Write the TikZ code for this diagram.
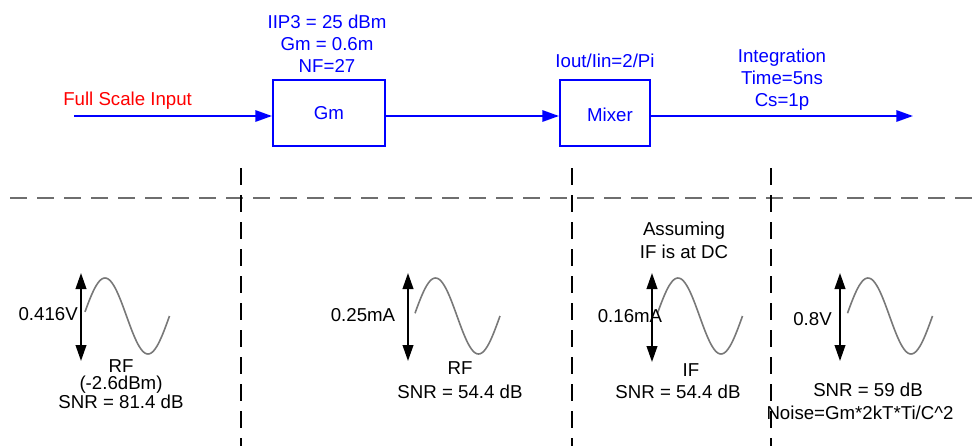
\documentclass[tikz,border=0pt]{standalone}
\usepackage{fontspec}
\setmainfont{Liberation Sans}
\usetikzlibrary{arrows.meta}
\definecolor{pureblue}{RGB}{0,0,255}
\definecolor{purered}{RGB}{255,0,0}
\definecolor{sinegray}{RGB}{120,120,120}
\definecolor{dashgray}{RGB}{110,110,110}
\tikzset{
  bluetxt/.style={text=pureblue, align=center, inner sep=0pt, font=\fontsize{14}{16.5}\selectfont},
  blacktxt/.style={text=black, align=center, inner sep=0pt, font=\fontsize{14}{12.5}\selectfont},
  blockbox/.style={draw=pureblue, line width=1.5pt, minimum width=84pt, minimum height=49.5pt, inner sep=0pt, text=pureblue, font=\fontsize{14}{16.5}\selectfont},
  sigline/.style={draw=pureblue, line width=1.5pt, -{Triangle[length=12.5pt,width=8.5pt]}},
  amparrow/.style={draw=black, line width=1.4pt, {Triangle[length=12pt,width=8pt]}-{Triangle[length=12pt,width=8pt]}},
  sinewave/.style={draw=sinegray, line width=1.2pt},
  hdash/.style={draw=dashgray, line width=1.2pt, dash pattern=on 12.75pt off 7.5pt},
  vdash/.style={draw=black, line width=0.8pt, dash pattern=on 12.75pt off 7.5pt},
}
\begin{document}
\begin{tikzpicture}[x=0.75pt, y=-0.75pt]
\useasboundingbox (0,0) rectangle (975,446);
% top chain
\coordinate (in) at (74,116);
\coordinate (out) at (913,116);
\node[blockbox, minimum width=84pt] (gm) at (329,113) {Gm};
\node[blockbox, minimum width=67.5pt] (mix) at (605,113) {};
\node[text=pureblue, inner sep=0pt, font=\fontsize{14}{16.5}\selectfont] (mixlbl) at (610,115) {Mixer};
\draw[sigline] (in) -- (in -| gm.west);
\draw[sigline] (gm.east |- in) -- (in -| mix.west);
\draw[sigline] (mix.east |- in) -- (out);
\node[text=purered, inner sep=0pt, anchor=west, font=\fontsize{14}{16.5}\selectfont] (fsi) at (63,101) {Full Scale Input};
\node[bluetxt] (gmparams) at (327,44) {IIP3 = 25 dBm\\Gm = 0.6m\\NF=27};
\node[bluetxt] (mixparams) at (605,61) {Iout/Iin=2/Pi};
\node[bluetxt] (intparams) at (782,80) {Integration\\Time=5ns\\Cs=1p};
% dashed separators
\coordinate (hl) at (10,198);
\coordinate (hr) at (975,198);
\draw[hdash] (hl) -- (hr);
\coordinate (v1t) at (241,168); \coordinate (v1b) at (241,446);
\coordinate (v2t) at (572,168); \coordinate (v2b) at (572,446);
\coordinate (v3t) at (771,168); \coordinate (v3b) at (771,446);
\draw[vdash] (v1t) -- (v1b);
\draw[vdash] (v2t) -- (v2b);
\draw[vdash] (v3t) -- (v3b);
% section 1
\coordinate (a1t) at (81,273); \coordinate (a1b) at (81,361);
\draw[amparrow] (a1t) -- (a1b);
\draw[sinewave] plot[domain=1.5:86, samples=60] ({83.5+\x},{316-38*sin(\x*4.186047)});
\node[blacktxt, anchor=east] (amp1) at (78,314) {0.416V};
\node[blacktxt] (rf1) at (121,384) {RF\\(-2.6dBm)\\SNR = 81.4 dB};
% section 2
\coordinate (a2t) at (408,273); \coordinate (a2b) at (408,361);
\draw[amparrow] (a2t) -- (a2b);
\draw[sinewave] plot[domain=1:86, samples=60] ({414+\x},{316-38*sin(\x*4.186047)});
\node[blacktxt] (amp2) at (363,315) {0.25mA};
\node[blacktxt, font=\fontsize{14}{18}\selectfont] (rf2) at (460,380) {RF\\SNR = 54.4 dB};
% section 3
\node[blacktxt, font=\fontsize{14}{17}\selectfont] (assume) at (684,240) {Assuming\\IF is at DC};
\coordinate (a3t) at (652,273); \coordinate (a3b) at (652,362);
\draw[amparrow] (a3t) -- (a3b);
\draw[sinewave] plot[domain=1:86, samples=60] ({656.5+\x},{316-38*sin(\x*4.186047)});
\node[blacktxt] (amp3) at (630,316) {0.16mA};
\node[blacktxt] (if3) at (691,370) {IF};
\node[blacktxt] (snr3) at (678,392) {SNR = 54.4 dB};
% section 4
\coordinate (a4t) at (840,273); \coordinate (a4b) at (840,361);
\draw[amparrow] (a4t) -- (a4b);
\draw[sinewave] plot[domain=1:86, samples=60] ({846.5+\x},{316-38*sin(\x*4.186047)});
\node[blacktxt, anchor=east] (amp4) at (832,319) {0.8V};
\node[blacktxt] (snr4) at (868,390) {SNR = 59 dB};
\node[blacktxt] (noise4) at (860,413) {Noise=Gm*2kT*Ti/C\^{}2};
\end{tikzpicture}
\end{document}
